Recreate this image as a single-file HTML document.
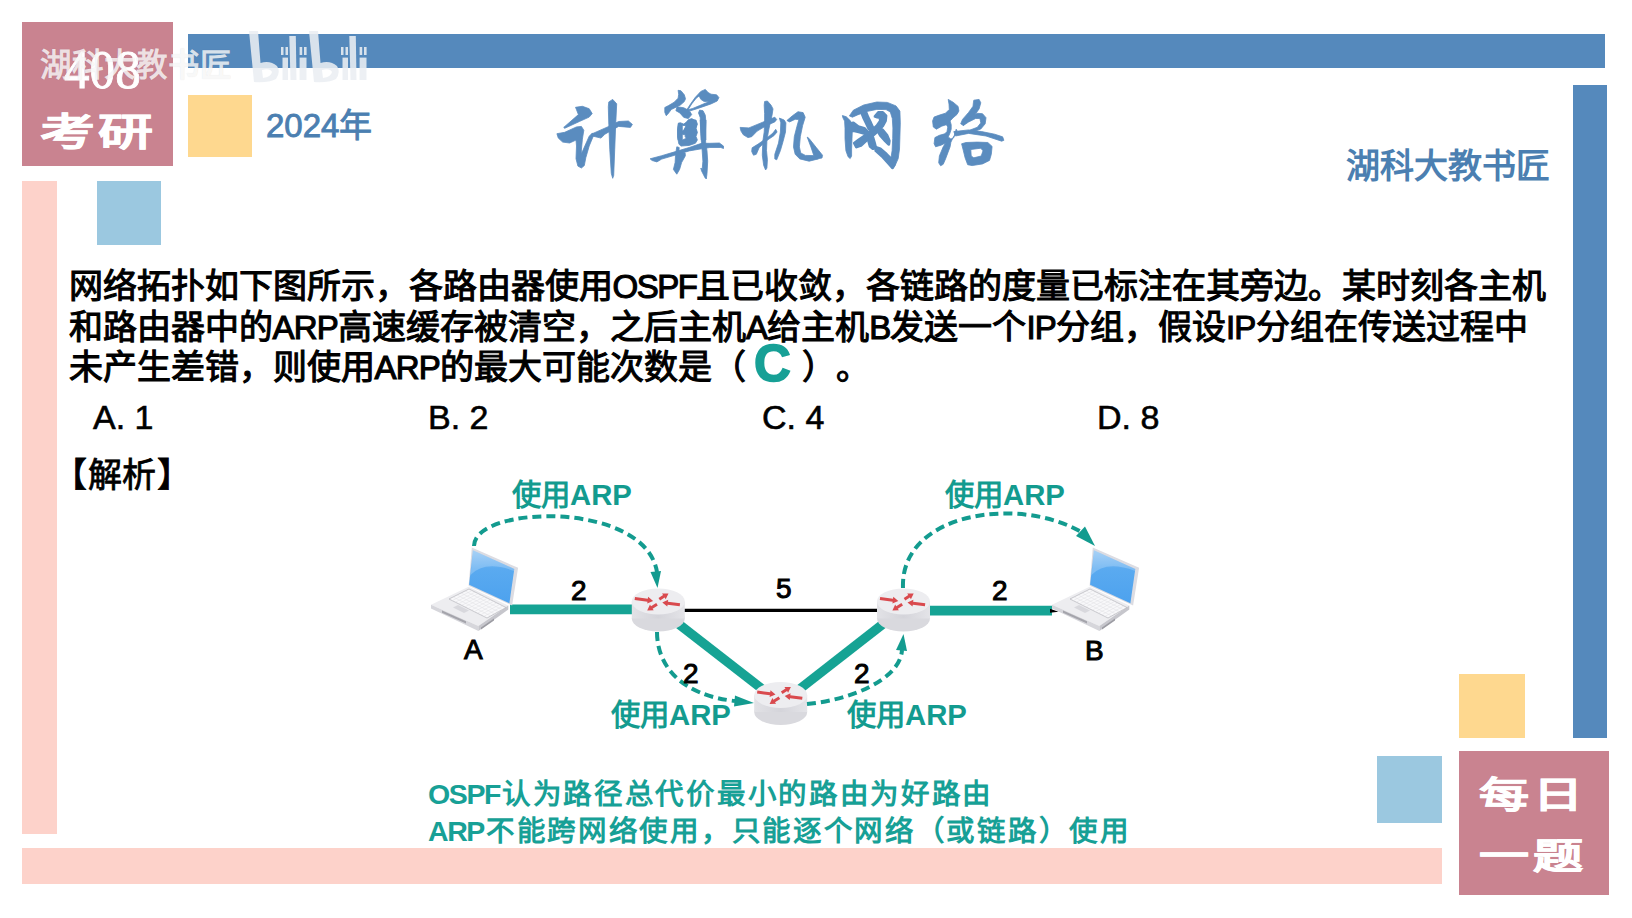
<!DOCTYPE html>
<html lang="zh-CN"><head><meta charset="utf-8">
<style>
*{margin:0;padding:0;box-sizing:border-box}
html,body{width:1632px;height:918px;overflow:hidden;background:#fff}
body{position:relative;font-family:"Liberation Sans",sans-serif;color:#000}
.r{position:absolute}
.blue{background:#5589bc}
.pink{background:#c98390}
.lpink{background:#fdd2ca}
.yel{background:#fed88f}
.lblue{background:#9bc8e0}
.t{position:absolute;white-space:nowrap}
.q{position:absolute;left:68.5px;text-spacing-trim:space-all;white-space:nowrap;font-size:34px;line-height:40px;-webkit-text-stroke:1.1px #000}
.l{font-size:33px;letter-spacing:-0.8px}
.l1{letter-spacing:-1.5px}
.ans{display:inline-block;color:#17a096;font-size:51px;font-weight:bold;-webkit-text-stroke:1.6px #17a096;margin:0 11px 0 8px;line-height:40px;vertical-align:top;position:relative;top:-3px}
.nt{position:absolute;left:428px;white-space:nowrap;font-size:28.5px;line-height:36px;font-weight:bold;color:#17a096;letter-spacing:1.7px;text-spacing-trim:space-all}
.nl{letter-spacing:-1.4px;margin-right:2px}
.tt{position:absolute;font:78px/78px 'Liberation Sans',sans-serif;color:#5a8cbf;-webkit-text-stroke:1.2px #5a8cbf}
.opt{position:absolute;top:398px;white-space:nowrap;font-size:34px;-webkit-text-stroke:0.6px #000}
</style></head><body>
<!-- decorative blocks -->
<div class="r pink" style="left:22px;top:22px;width:151px;height:144px"></div>
<div class="r blue" style="left:188px;top:34px;width:1417px;height:34px"></div>
<div class="r yel" style="left:188px;top:95px;width:64px;height:62px"></div>
<div class="r lblue" style="left:97px;top:181px;width:64px;height:64px"></div>
<div class="r lpink" style="left:22px;top:181px;width:35px;height:653px"></div>
<div class="r blue" style="left:1573px;top:85px;width:34px;height:653px"></div>
<div class="r yel" style="left:1459px;top:674px;width:66px;height:64px"></div>
<div class="r lblue" style="left:1377px;top:756px;width:65px;height:67px"></div>
<div class="r pink" style="left:1459px;top:751px;width:150px;height:144px"></div>
<div class="r lpink" style="left:22px;top:848px;width:1420px;height:36px"></div>

<!-- header text -->
<div class="t" style="left:64px;top:42px;font:55px/55px 'Liberation Serif',serif;color:#fff;-webkit-text-stroke:0.8px #fff;transform:scaleX(0.93);transform-origin:0 0">408</div>
<div class="t" style="left:40px;top:104.5px;font:bold 55px/55px 'Liberation Sans',sans-serif;color:#fff;letter-spacing:3px;transform:scaleY(0.69);-webkit-text-stroke:0.8px #fff">考研</div>
<div class="t" style="left:266px;top:98.5px;font:33px 'Liberation Sans',sans-serif;color:#4b7fb1;-webkit-text-stroke:0.9px #4b7fb1">2024年</div>
<svg class="r" style="left:0;top:0" width="1100" height="200" viewBox="0 0 1100 200"><g fill="#5a8cbf" fill-rule="evenodd" stroke="#5a8cbf" stroke-width="0.8" stroke-linejoin="round"><path d="M575.5,107.3 582.4,106.3 589.2,108.7 592.2,113.6 589.2,117.1 579.4,121.5 564.7,128.3 563.7,127.4 578.4,114.6 576.5,109.7Z"/><path d="M556.9,133.7 564.7,132.3 576.5,126.9 581.4,126.4 583.8,130.3 582.4,139.1 581.4,149.9 581.4,153.8 589.2,136.2 592.2,133.2 594.1,134.2 589.2,146.0 585.8,157.7 584.3,165.6 581.4,168.0 577.9,166.1 576.0,158.7 576.5,146.0 576.0,140.1 569.6,143.0 562.7,142.1 558.3,138.1Z"/><path d="M591.2,134.2 608.8,126.4 618.6,121.5 628.4,121.0 632.4,124.4 630.4,127.4 618.6,126.4 604.9,134.2 601.0,138.1 593.1,136.2Z"/><path d="M608.8,101.9 612.7,99.4 616.7,103.8 615.7,124.4 614.7,149.9 613.7,175.4 612.7,178.3 611.3,173.4 609.8,149.9 608.8,124.4 608.3,106.8Z"/><path d="M740.1,127.4 748.9,127.9 759.1,123.7 770.2,119.1 774.8,117.2 776.7,119.5 774.8,121.9 766.5,125.6 757.2,131.1 751.7,136.7 748.0,137.6 743.3,134.8 741.0,131.1Z"/><path d="M764.6,101.5 767.4,101.0 771.1,105.2 773.0,108.9 772.0,115.4 770.2,122.8 768.3,132.0 766.9,141.3 766.5,150.6 767.4,159.8 766.9,168.1 765.6,170.0 763.7,165.4 762.3,155.2 762.8,141.3 764.2,132.0 764.6,122.8 764.6,113.5 764.2,105.2Z"/><path d="M775.7,129.3 777.1,132.0 773.9,135.7 765.6,141.3 759.1,147.8 756.3,154.3 753.5,155.2 751.7,151.5 752.1,147.8 758.1,144.1 767.4,137.6 773.0,133.0Z"/><path d="M779.4,118.1 784.1,120.0 785.9,122.8 785.5,132.0 783.1,141.3 780.4,150.6 776.7,159.8 774.8,158.9 774.8,154.3 778.5,143.1 780.4,132.0 780.8,122.8Z"/><path d="M786.9,120.5 792.4,115.8 798.0,111.7 803.1,112.6 805.2,117.2 802.6,125.6 800.3,136.7 799.4,146.9 800.7,152.9 805.4,155.4 813.7,155.6 818.3,158.9 809.1,161.2 799.8,158.9 795.2,154.3 793.5,146.9 794.3,136.7 796.9,126.5 798.9,119.5 795.2,119.3 789.6,121.9Z"/><path d="M807.2,137.1 809.1,138.5 816.5,147.8 822.5,155.2 822.0,158.0 816.5,158.9 813.7,155.2 810.9,146.9Z"/><path d="M842.4,115.5 846.3,116.8 850.7,121.1 852.4,128.1 852.0,138.6 851.6,149.0 851.6,156.0 850.2,158.6 848.1,156.8 845.9,150.7 845.0,138.6 845.0,128.1 844.6,121.1 842.8,117.6Z"/><path d="M849.4,115.9 853.3,110.2 863.7,105.0 876.8,102.0 887.3,102.4 896.0,105.9 899.9,111.1 900.3,122.9 899.9,136.8 899.5,149.0 898.2,158.6 895.1,165.6 892.5,167.7 889.9,164.7 887.3,161.2 890.7,159.5 892.1,150.7 892.7,138.6 892.9,128.1 892.3,118.5 890.3,112.0 886.0,109.6 876.8,109.4 866.4,111.6 857.6,114.9 852.4,117.2Z"/><path d="M861.7,112.6 865.8,112.1 868.0,117.5 870.7,123.0 872.9,127.9 871.8,130.6 869.1,129.0 866.3,123.0 863.6,117.5Z" stroke-width="3"/><path d="M850.0,124.1 853.3,123.0 858.2,126.8 864.2,128.4 866.3,130.6 864.2,133.3 858.7,131.7 853.3,130.6 850.0,131.1Z" stroke-width="3"/><path d="M875.1,116.4 878.3,112.6 882.7,112.6 885.9,115.9 885.4,120.8 882.7,125.7 878.3,130.6 872.9,135.5 866.3,140.4 860.9,145.3 856.5,146.9 854.4,143.1 858.7,139.9 865.3,135.5 871.8,130.6 877.2,125.7 880.5,120.8 880.0,117.5 877.2,117.0Z" stroke-width="3"/><path d="M879.4,128.4 882.7,130.1 887.0,135.5 889.2,140.9 888.7,144.2 885.4,140.9 880.5,135.5 878.3,131.7Z" stroke-width="3"/><path d="M866.3,131.1 870.2,133.3 872.9,137.7 874.5,143.1 875.6,147.5 872.9,148.6 870.2,146.4 868.5,140.4 865.8,135.5Z" stroke-width="3"/><path d="M875.9,147.3 880.3,149.0 886.4,154.2 891.6,159.5 894.2,164.7 892.5,167.7 889.0,163.8 882.0,156.0 875.9,150.7Z" stroke-width="3"/><path d="M948.2,99.4 953.1,102.2 958.1,106.4 958.9,111.0 957.0,114.4 953.1,117.8 950.1,120.9 951.2,124.7 951.2,129.2 949.7,133.8 948.2,136.9 950.9,139.1 953.9,137.6 956.2,129.2 957.0,130.8 953.1,137.6 950.9,142.2 950.1,146.8 947.8,152.9 945.5,159.0 943.2,164.3 940.6,165.8 938.7,162.8 939.4,155.9 943.2,146.8 945.5,143.0 941.0,145.2 935.6,146.8 934.1,143.7 934.9,137.6 939.4,135.3 944.8,133.8 947.0,131.5 947.8,127.0 946.3,124.7 941.7,126.2 936.4,129.2 933.3,127.0 932.6,120.9 934.1,117.0 939.4,115.1 945.5,113.2 949.3,109.4 949.0,104.1Z"/><path d="M973.8,100.2 979.1,99.4 980.8,102.8 979.1,108.9 974.7,115.1 968.6,120.3 963.4,125.5 960.7,123.8 962.5,119.4 968.6,112.4 973.0,106.3 973.4,102.8Z"/><path d="M962.5,121.2 970.3,116.8 977.3,113.3 982.5,113.7 986.0,117.7 985.2,123.8 980.8,129.0 973.8,131.6 968.6,132.5 970.3,129.9 977.3,127.3 980.8,122.9 979.9,118.5 975.6,118.5 968.6,122.0 963.4,125.5Z"/><path d="M953.8,131.6 968.6,129.9 981.7,131.6 994.7,134.2 1002.6,136.8 1003.9,140.3 1001.7,141.2 986.0,136.0 968.6,133.4 955.5,136.0Z"/><path d="M961.6,143.8 966.0,142.5 977.3,142.1 987.8,142.5 992.1,146.4 991.3,154.3 989.5,160.4 982.5,163.9 972.1,165.6 967.7,164.7 965.1,157.8 963.4,150.8ZM970.8,149.5 980.8,148.2 983.0,150.8 981.2,156.0 973.8,157.8 971.2,156.0Z"/><path d="M678.1,90.3 681.0,90.8 684.3,94.8 685.5,98.8 684.3,101.6 680.4,105.0 677.0,106.7 671.3,109.5 667.9,114.0 666.2,115.7 664.8,112.3 664.8,107.5 668.5,105.6 674.2,102.2 678.1,98.2 678.7,94.2Z"/><path d="M677.0,106.7 683.8,107.8 689.4,110.7 691.7,114.6 688.3,118.6 683.8,117.4 679.8,112.9 675.9,110.7Z"/><path d="M686.6,110.1 690.6,103.9 695.1,97.6 700.8,91.4 705.3,89.4 708.1,92.5 711.0,94.2 716.6,94.8 718.9,97.6 717.2,101.0 711.0,103.9 703.0,106.7 696.2,109.0 690.6,110.7ZM688.0,109.8 691.7,103.9 696.2,98.2 699.1,95.9 700.8,99.3 704.2,101.6 708.7,101.3 706.4,102.7 699.6,105.6 692.8,108.4Z"/><path d="M699.6,110.1 703.0,110.7 705.3,115.2 705.9,122.0 705.9,140.0 701.3,140.0 700.8,127.6 700.2,117.4 698.5,112.9Z"/><path d="M678.7,123.1 680.4,123.7 681.0,127.6 681.0,140.0 678.1,140.0 677.8,130.5Z"/><path d="M688.3,119.7 691.7,118.6 695.1,120.3 696.8,124.2 695.7,128.8 696.8,132.2 695.1,136.1 696.2,140.0 687.2,140.0 684.9,136.1 686.6,133.3 683.8,131.0 684.9,127.6 687.2,126.5 686.0,123.1Z"/><path d="M678.2,123.4 680.3,122.7 683.7,124.1 689.2,120.0 696.0,120.0 697.4,124.1 696.0,128.2 697.4,132.4 696.0,136.5 697.4,139.9 695.4,143.3 689.2,145.4 680.9,146.1 678.9,144.0 677.5,137.2 677.5,128.9ZM682.3,125.5 685.1,125.5 686.4,128.2 682.3,131.0ZM682.3,134.4 686.4,135.1 687.8,137.8 682.3,139.9Z"/><path d="M700.2,120.0 706.0,120.0 705.3,133.7 705.7,142.6 707.0,150.9 707.7,161.2 707.0,173.5 706.3,179.0 705.0,177.7 701.5,170.8 700.8,168.0 702.2,169.4 702.9,161.2 702.2,150.9 701.5,142.6 700.8,133.7Z"/><path d="M650.1,158.8 661.7,155.7 675.5,151.6 689.2,147.5 701.5,143.3 709.8,143.3 719.4,143.0 723.5,146.1 723.5,148.5 720.8,147.5 709.8,147.5 701.5,148.8 689.2,150.9 675.5,155.0 661.7,159.1 656.9,161.9 652.1,160.5Z"/><path d="M676.8,146.8 679.2,147.5 678.9,152.3 685.1,152.9 685.4,155.7 681.6,162.6 679.6,169.4 676.8,174.2 673.4,169.4 675.1,162.6 675.5,155.7 676.1,150.9Z"/></g></svg>
<div class="t" style="left:1346px;top:139px;font:bold 34px 'Liberation Sans',sans-serif;color:#4b7fb1">湖科大教书匠</div>
<div class="t" style="left:1479px;top:771px;font:bold 50px/50px 'Liberation Sans',sans-serif;color:#fff;letter-spacing:4px;transform:scaleY(0.72);-webkit-text-stroke:0.8px #fff">每日</div>
<div class="t" style="left:1479px;top:832px;font:bold 50px/50px 'Liberation Sans',sans-serif;color:#fff;letter-spacing:4px;transform:scaleY(0.72);-webkit-text-stroke:0.8px #fff">一题</div>


<!-- watermark -->
<div class="t" style="left:40px;top:44.5px;font-size:31.5px;font-weight:bold;line-height:40px;color:rgba(255,255,255,0.8);text-shadow:0 0 1px rgba(0,0,0,0.12)">湖科大教书匠</div>
<svg class="r" style="left:0;top:0" width="420" height="100" viewBox="0 0 420 100">
<g id="bl" fill="#ebeef2" fill-opacity="0.88" fill-rule="evenodd">
<path d="M249,31 L258,31 L260.5,63 Q270,60 277,66 Q281,72 276,79 Q268,83 254,82 Z M262,70 Q270,68 272,72 Q271,77 263,78 Z"/>
<rect x="282.5" y="57.6" width="5.5" height="22.4"/>
<rect x="281" y="47" width="2.5" height="8"/><rect x="285.5" y="47" width="2.5" height="8"/>
<path d="M289.3,36 L295.8,36 L296.5,80 L290.5,80 Z"/>
<rect x="299.6" y="57.6" width="6.9" height="22.4"/>
<rect x="299.6" y="47" width="2.6" height="8"/><rect x="304" y="47" width="2.6" height="8"/>
</g>
<use href="#bl" transform="translate(60,0)"/>
</svg>

<!-- question -->
<div class="q" style="top:266px">网络拓扑如下图所示，各路由器使用<span class="l l1">OSPF</span>且已收敛，各链路的度量已标注在其旁边。某时刻各主机</div>
<div class="q" style="top:306.5px">和路由器中的<span class="l">ARP</span>高速缓存被清空，之后主机<span class="l">A</span>给主机<span class="l">B</span>发送一个<span class="l">IP</span>分组，假设<span class="l">IP</span>分组在传送过程中</div>
<div class="q" style="top:347px">未产生差错，则使用<span class="l">ARP</span>的最大可能次数是（<span class="ans">C</span>）。</div>
<div class="opt" style="left:93px">A. 1</div>
<div class="opt" style="left:428px">B. 2</div>
<div class="opt" style="left:762px">C. 4</div>
<div class="opt" style="left:1097px">D. 8</div>
<div class="t" style="left:53px;top:448px;font-size:34px;letter-spacing:0.5px;-webkit-text-stroke:0.8px #000">【解析】</div>
<svg class="r" style="left:0;top:0" width="1632" height="918" viewBox="0 0 1632 918">
<defs>
<linearGradient id="side" x1="0" y1="0" x2="1" y2="0">
<stop offset="0" stop-color="#e2e2e6"/><stop offset="0.5" stop-color="#d4d4da"/><stop offset="1" stop-color="#e4e4e8"/>
</linearGradient>
<linearGradient id="scr" x1="0" y1="0" x2="0" y2="1">
<stop offset="0" stop-color="#8fc4f3"/><stop offset="0.35" stop-color="#5aaaf0"/><stop offset="1" stop-color="#4da2ee"/>
</linearGradient>
<g id="router">
<ellipse cx="0" cy="17" rx="26.5" ry="13" fill="#d9d9de"/>
<rect x="-26.5" y="0" width="53" height="17" fill="url(#side)"/>
<ellipse cx="0" cy="0" rx="26.5" ry="13" fill="#ededf0"/>
<g fill="#d94a4e">
<polygon points="-23.7,-1.4 -10.8,0.2 -11.1,2.1 -5.2,-0.6 -10.2,-4.7 -10.5,-2.8 -23.3,-4.4"/>
<polygon points="1.8,-0.9 6.4,-3.9 7.4,-2.3 10.2,-8.1 3.7,-8.0 4.8,-6.4 0.2,-3.5"/>
<polygon points="21.8,1.8 9.6,0.2 9.9,-1.7 4.0,1.0 9.0,5.1 9.3,3.2 21.4,4.8"/>
<polygon points="-2.1,1.4 -7.3,4.7 -8.3,3.1 -11.1,8.9 -4.6,8.8 -5.7,7.2 -0.5,4.0"/>
</g>
</g>
<g id="laptop">
<polygon points="431,604.8 468.6,586.8 508.3,605.4 478.4,626" fill="#ededf0"/>
<polygon points="431,604.8 478.4,626 478.4,631 431,608.5" fill="#d6d6db"/>
<polygon points="478.4,626 508.3,605.4 508.3,609.5 478.4,631" fill="#c6c6cc"/>
<polygon points="442,610.5 466,621.2 466,623.5 442,612.8" fill="#a4a4ab"/>
<polygon points="481,627.5 494,618.5 494,620.5 481,629.5" fill="#9c9ca3"/>
<polygon points="449,599 469,589 506,607.5 487,618" fill="#f8f8fa" stroke="#b4b4ba" stroke-width="0.7"/>
<path d="M465.0,591.0L502.2,609.6M461.0,593.0L498.4,611.7M457.0,595.0L494.6,613.8M453.0,597.0L490.8,615.9M472.1,590.5L452.2,600.6M475.2,592.1L455.3,602.2M478.2,593.6L458.5,603.8M481.3,595.2L461.7,605.3M484.4,596.7L464.8,606.9M487.5,598.2L468.0,608.5M490.6,599.8L471.2,610.1M493.7,601.3L474.3,611.7M496.8,602.9L477.5,613.2M499.8,604.4L480.7,614.8M502.9,606.0L483.8,616.4" stroke="#dedee3" stroke-width="0.5" fill="none"/>
<polygon points="453,607.5 458,605 469,610.5 464,613" fill="#d8d8dd"/>
<polygon points="471.8,547.6 518.1,567.8 512.1,605.4 468.6,585.8" fill="#dcdce2"/>
<polygon points="472.9,550.3 514.3,568.9 509.4,603.2 469.1,584.7" fill="url(#scr)"/>
<path d="M470.5,575 Q485,560 514,571 L514.3,568.9 L472.9,550.3 Z" fill="#ffffff" fill-opacity="0.22"/>
</g>
<marker id="ah" viewBox="0 0 10 10" refX="0" refY="5" markerWidth="4" markerHeight="3" orient="auto" markerUnits="strokeWidth"><path d="M0,0 L10,5 L0,10 Z" fill="#139b8f"/></marker>
</defs>
<!-- links -->
<line x1="510" y1="609.3" x2="640" y2="609.3" stroke="#16a394" stroke-width="9.7"/>
<line x1="680" y1="610.4" x2="880" y2="610.4" stroke="#000" stroke-width="3.3"/>
<line x1="925" y1="610.6" x2="1052" y2="610.6" stroke="#16a394" stroke-width="9.7"/>
<line x1="658" y1="608" x2="781" y2="703.6" stroke="#16a394" stroke-width="9.4"/>
<line x1="781" y1="703.6" x2="903.5" y2="608" stroke="#16a394" stroke-width="9.4"/>
<polygon points="1050,608.8 1058.5,611.8 1050,612.8" fill="#000"/>
<!-- laptops -->
<use href="#laptop"/>
<use href="#laptop" transform="translate(621,0)"/>
<!-- routers -->
<use href="#router" transform="translate(658.3,601.5)"/>
<use href="#router" transform="translate(903.5,601.5)"/>
<use href="#router" transform="translate(780.7,695)"/>
<!-- dashed arcs -->
<g fill="none" stroke="#139b8f" stroke-width="4" stroke-dasharray="9 5">
<path d="M474,546 C474,505 645,500 657,572"/>
<path d="M903,588 C900,512 1020,495 1083,533"/>
<path d="M657,632 C657,665 680,695 735,701"/>
<path d="M807,704 C850,700 900,680 902,650"/>
</g>
<g fill="#139b8f">
<polygon points="650.5,572 661,571 657.5,588"/>
<polygon points="1076,536 1085,526.5 1095,546"/>
<polygon points="735,695.5 734,706.5 754,703"/>
<polygon points="896,650 907,651 903.5,634"/>
</g>
<!-- labels -->
<g font-family="Liberation Sans, sans-serif" font-size="28" fill="#000" stroke="#000" stroke-width="1">
<text x="571" y="600">2</text>
<text x="776" y="598">5</text>
<text x="992" y="600">2</text>
<text x="683" y="683">2</text>
<text x="854" y="683">2</text>
<text x="464" y="659">A</text>
<text x="1085" y="660">B</text>
</g>
<g font-family="Liberation Sans, sans-serif" font-size="29.3" font-weight="bold" fill="#139b8f">
<text x="512" y="505">使用ARP</text>
<text x="945" y="505">使用ARP</text>
<text x="611" y="725">使用ARP</text>
<text x="847" y="725">使用ARP</text>
</g>
</svg>

<!-- bottom notes -->
<div class="nt" style="top:776px"><span class="nl">OSPF</span>认为路径总代价最小的路由为好路由</div>
<div class="nt" style="top:812.5px"><span class="nl">ARP</span>不能跨网络使用，只能逐个网络（或链路）使用</div>

</body></html>
